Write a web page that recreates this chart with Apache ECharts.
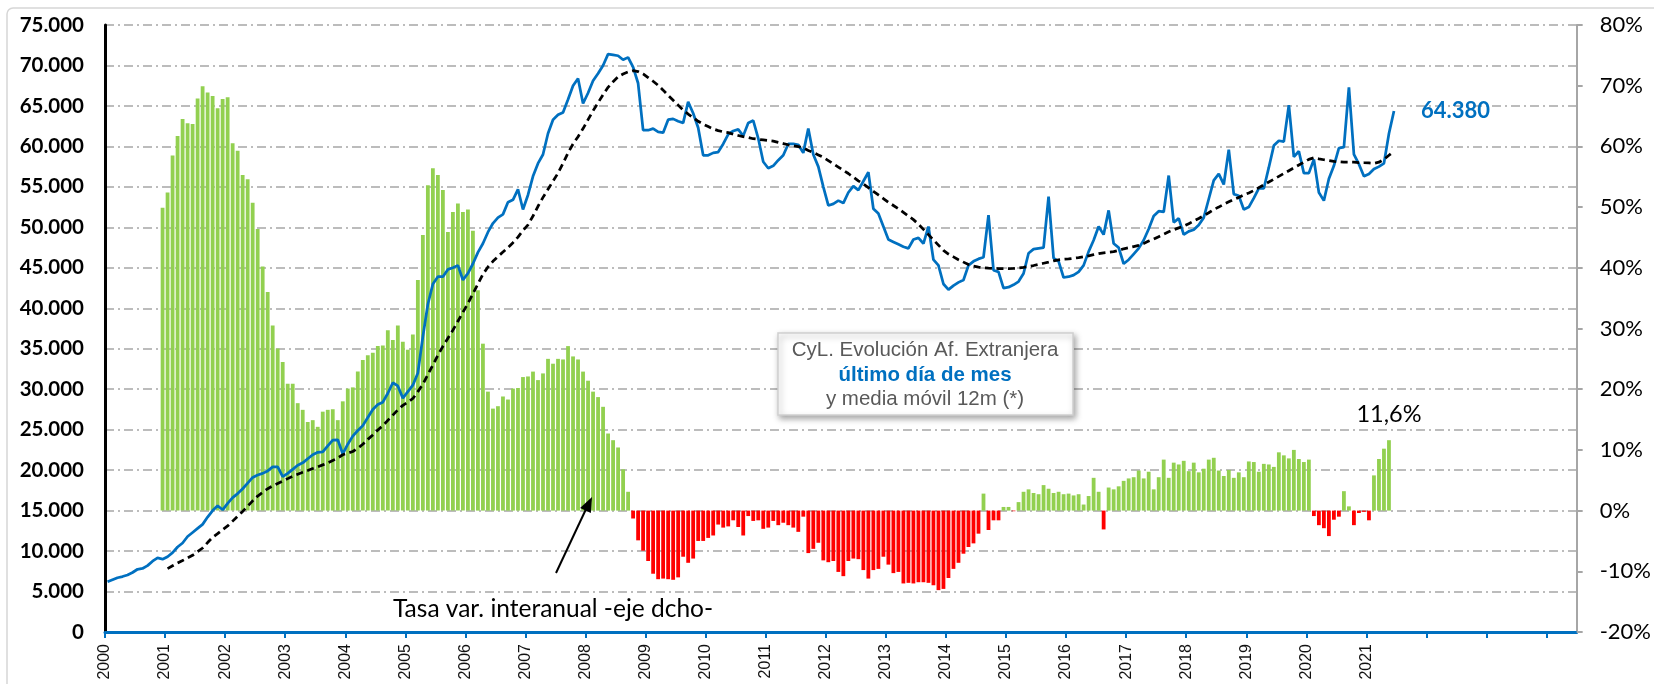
<!DOCTYPE html>
<html>
<head>
<meta charset="utf-8">
<script src="https://cdn.jsdelivr.net/npm/echarts@6/dist/echarts.min.js"></script>
<style>html,body{margin:0;padding:0;background:#fff;}#c{width:1654px;height:684px;}</style>
</head>
<body>
<div id="c"></div>
<script>
// Year tick labels (January of each year)
const anios = ['2000','2001','2002','2003','2004','2005','2006','2007','2008','2009','2010',
  '2011','2012','2013','2014','2015','2016','2017','2018','2019','2020','2021'];
const aniosEje = 24; // the axis runs to mid-2024 with unlabeled ticks

// Afiliados extranjeros, último día de mes (Jan 2000 .. Jun 2021)
const afiliados = [
  6200, 6450, 6700, 6850, 7050, 7350, 7750, 7850, 8200, 8750, 9150, 9000,
  9300, 9800, 10500, 11000, 11800, 12300, 12800, 13300, 14200, 15000, 15600, 15100,
  15900, 16600, 17100, 17700, 18400, 19100, 19400, 19600, 19900, 20400, 20400, 19200,
  19600, 20100, 20600, 20900, 21400, 21900, 22200, 22250, 23000, 23700, 23750, 22000,
  23200, 24200, 24900, 25500, 26500, 27500, 28100, 28400, 29500, 30800, 30400, 28900,
  29700, 30500, 32000, 36500, 40500, 43000, 43900, 43900, 44800, 45000, 45300, 43500,
  44300, 45500, 46900, 48000, 49400, 50500, 51200, 51600, 53100, 53400, 54700, 52200,
  54000, 56300, 57900, 59000, 61600, 63300, 63900, 64200, 65800, 67500, 68400, 65300,
  66600, 68100, 69000, 70000, 71400, 71300, 71200, 70700, 71000, 69800, 67800, 62000,
  62000, 62200, 61800, 61700, 63300, 63400, 63100, 62900, 65500, 64100, 62300, 58900,
  58900, 59200, 59300, 60300, 61500, 61900, 62100, 61300, 62900, 63200, 61000, 58100,
  57300, 57600, 58300, 58900, 60300, 60300, 60200, 59200, 62200, 59000, 57500, 55000,
  52700, 52900, 53300, 53000, 54300, 55100, 54600, 55700, 56800, 52300, 51700, 50100,
  48500, 48200, 47900, 47600, 47400, 48500, 48700, 48000, 50100, 46000, 45300, 43000,
  42300, 42800, 43200, 43500, 45300, 45800, 46100, 46300, 51500, 44700, 44500, 42500,
  42600, 42900, 43300, 44300, 46800, 47300, 47400, 47500, 53800, 46200, 45800, 43800,
  43900, 44100, 44500, 45300, 47000, 48400, 50100, 49100, 52100, 48000, 47500, 45500,
  46000, 46700, 47400, 48400, 49800, 51400, 52000, 51900, 56400, 50600, 51100, 49100,
  49500, 49700, 50300, 51200, 53500, 55800, 56600, 55300, 59600, 54100, 53900, 52200,
  52500, 53600, 54800, 54800, 57400, 60100, 60700, 60600, 65100, 58700, 59400, 56700,
  56700, 58400, 54300, 53300, 56000, 57600, 59800, 59900, 67300, 59000, 57800, 56300,
  56600, 57200, 57500, 57900, 61600, 64380
];

// Media móvil 12 meses (from Jan 2001)
const inicioMedia = 12;
const mediaMovil = [
  7830, 8180, 8520, 8830, 9150, 9480, 9920, 10380, 11050, 11700, 12150, 12650,
  13100, 13700, 14300, 14900, 15550, 16200, 16800, 17250, 17700, 18050, 18350, 18650,
  18950, 19250, 19500, 19750, 19950, 20200, 20400, 20650, 20900, 21200, 21500, 21900,
  22100, 22300, 22700, 23200, 23800, 24350, 24950, 25500, 26150, 26800, 27450, 28000,
  28400, 28850, 29700, 30600, 31800, 33000, 34200, 35300, 36300, 37300, 38400, 39500,
  40600, 41800, 43000, 44200, 45100, 45800, 46400, 46950, 47500, 48100, 48800, 49600,
  50300, 51400, 52600, 53700, 54700, 55700, 56700, 57900, 59200, 60300, 61200, 62200,
  63300, 64400, 65400, 66400, 67300, 68000, 68600, 68950, 69200, 69350, 69250, 68950,
  68500, 68050, 67550, 66950, 66300, 65700, 65100, 64500, 64000, 63550, 63100, 62750,
  62450, 62150, 61950, 61800, 61700, 61500, 61350, 61200, 61100, 60950, 60880, 60800,
  60720, 60650, 60500, 60350, 60200, 60080, 59980, 59800, 59500, 59250, 58950, 58650,
  58250, 57850, 57450, 57050, 56650, 56200, 55750, 55350, 54900, 54450, 54000, 53550,
  53100, 52700, 52300, 51850, 51400, 50950, 50400, 49750, 49100, 48450, 47800, 47150,
  46700, 46350, 46000, 45700, 45400, 45200, 45080, 45000, 44950, 44920, 44910, 44910,
  44910, 44920, 44980, 45050, 45150, 45280, 45420, 45560, 45700, 45850, 45980, 46050,
  46100, 46180, 46260, 46350, 46480, 46620, 46760, 46850, 46930, 47000, 47150, 47350,
  47480, 47620, 47760, 48000, 48300, 48550, 48850, 49150, 49450, 49700, 49930, 50150,
  50450, 50780, 51100, 51450, 51800, 52200, 52500, 52850, 53150, 53450, 53700, 54000,
  54250, 54550, 54900, 55250, 55600, 55950, 56300, 56650, 57000, 57350, 57700, 58050,
  58400, 58600, 58450, 58350, 58250, 58150, 58100, 58050, 58050, 58050, 58000, 57980,
  57950, 57900, 58050, 58400, 58900, 59400
];

// Tasa de variación interanual (%), right axis; bars drawn from the month slot below
const inicioTasa = 11;
const tasaInteranual = [
  49.9, 52.4, 58.5, 61.7, 64.5, 63.8, 63.7, 67.9, 69.9, 68.9, 68.3, 66.3,
  67.8, 68.1, 60.5, 59.3, 55.3, 54.6, 50.7, 46.4, 40.2, 36.0, 30.5, 26.7,
  24.5, 20.9, 20.9, 17.7, 16.6, 14.6, 14.9, 13.8, 16.3, 16.6, 16.7, 14.9,
  18.0, 20.1, 20.3, 22.9, 24.8, 25.6, 26.0, 27.1, 27.2, 29.7, 28.1, 30.5,
  27.8, 26.5, 29.0, 38.0, 45.4, 53.6, 56.4, 55.3, 52.8, 45.9, 49.2, 50.6,
  49.2, 49.6, 46.1, 36.3, 27.5, 19.6, 16.8, 17.2, 18.8, 18.3, 20.1, 20.2,
  22.0, 22.1, 22.9, 21.5, 22.6, 25.0, 24.2, 25.0, 24.9, 27.1, 25.4, 24.9,
  22.9, 21.4, 19.6, 18.7, 17.1, 12.7, 11.6, 10.4, 6.8, 3.1, -1.3, -4.9,
  -6.6, -8.3, -10.4, -11.3, -11.2, -11.3, -11.4, -11.0, -7.6, -8.6, -7.9, -5.0,
  -5.0, -4.5, -4.1, -2.3, -2.8, -2.6, -1.6, -2.7, -4.1, -0.9, -1.7, -1.6,
  -3.0, -2.8, -1.7, -2.4, -2.0, -2.4, -2.8, -3.5, -1.0, -7.0, -6.3, -5.3,
  -8.2, -8.5, -8.3, -10.1, -10.8, -8.3, -7.9, -8.0, -9.8, -11.2, -9.8, -9.6,
  -7.6, -8.9, -10.3, -10.1, -12.0, -11.9, -12.0, -11.8, -11.8, -11.9, -12.3, -13.1,
  -12.9, -11.1, -9.6, -8.6, -7.1, -6.0, -5.4, -3.8, 2.8, -3.2, -1.6, -1.6,
  0.6, 0.6, -0.1, 1.4, 3.1, 3.5, 2.9, 2.7, 4.2, 3.6, 2.9, 3.1,
  2.7, 2.8, 2.5, 2.7, 1.0, 2.4, 5.4, 3.1, -3.1, 3.8, 3.5, 4.0,
  4.9, 5.3, 5.5, 6.6, 5.3, 6.4, 3.5, 5.5, 8.4, 5.4, 7.9, 7.6,
  8.2, 6.5, 7.9, 6.3, 6.9, 8.4, 8.7, 6.6, 5.7, 6.7, 5.4, 6.3,
  5.5, 8.1, 8.0, 6.4, 7.7, 7.6, 7.2, 9.6, 9.1, 8.6, 10.0, 8.5,
  8.0, 8.4, -0.9, -2.4, -2.9, -4.2, -1.5, -1.0, 3.2, 0.7, -2.4, -0.4,
  -0.2, -1.6, 5.8, 8.5, 10.2, 11.6
];

const miles = v => String(Math.round(v)).replace(/\B(?=(\d{3})+(?!\d))/g, '.');
const calibri = 'Lato, "Open Sans", sans-serif';
const arial = '"Liberation Sans", Arial, sans-serif';

const tickValues = [];
for (let k = 0; k <= aniosEje; k++) tickValues.push(k * 12);
const labelValues = anios.map((a, k) => k * 12);

const lineData = afiliados.map((v, i) => [i + 0.5, v]);
const mediaData = mediaMovil.map((v, j) => [inicioMedia + j + 0.5, v]);
const tasaData = tasaInteranual.map((v, j) => {
  const item = { value: [inicioTasa + j + 0.5, v] };
  if (j === tasaInteranual.length - 1) {
    item.label = {
      show: true, position: 'top', distance: 14,
      formatter: p => p.value[1].toFixed(1).replace('.', ',') + '%',
      fontFamily: calibri, fontSize: 23.5, color: '#000'
    };
  }
  return item;
});

const chart = echarts.init(document.getElementById('c'), null, { renderer: 'canvas' });
chart.setOption({
  animation: false,
  backgroundColor: '#fff',
  grid: { left: 105, right: 68, top: 25, bottom: 52, containLabel: false },
  xAxis: {
    type: 'value', min: 0, max: 294,
    axisLine: { show: true, onZero: false, lineStyle: { color: '#0070C0', width: 3 } },
    axisTick: { show: true, length: 6, customValues: tickValues, lineStyle: { color: '#0070C0', width: 2 } },
    axisLabel: {
      show: true, rotate: 90, margin: 12, customValues: labelValues,
      formatter: v => anios[Math.round(v / 12)] || '',
      fontFamily: arial, fontSize: 16, color: '#111'
    },
    splitLine: { show: false }
  },
  yAxis: [
    {
      type: 'value', min: 0, max: 75000, interval: 5000, position: 'left',
      axisLine: { show: true, lineStyle: { color: '#000', width: 3 } },
      axisTick: { show: false },
      axisLabel: { formatter: miles, fontFamily: calibri, fontWeight: 'bold', fontSize: 20.5, color: '#000', margin: 21 },
      splitLine: { show: true, lineStyle: { color: '#A6A6A6', width: 1.5, type: [9, 4, 2, 4] } }
    },
    {
      type: 'value', min: -20, max: 80, interval: 10, position: 'right',
      axisLine: { show: true, lineStyle: { color: '#A6A6A6', width: 2 } },
      axisTick: { show: true, length: 6, lineStyle: { color: '#A6A6A6', width: 2 } },
      axisLabel: { formatter: '{value}%', fontFamily: calibri, fontSize: 22, color: '#000', margin: 23 },
      splitLine: { show: false }
    }
  ],
  series: [
    {
      type: 'bar', yAxisIndex: 1, data: tasaData, barWidth: 3.8,
      itemStyle: { color: p => (p.value[1] >= 0 ? '#92D050' : '#FF0000') }
    },
    {
      type: 'line', yAxisIndex: 0, data: lineData, symbol: 'none',
      lineStyle: { color: '#0070C0', width: 2.75 },
      endLabel: {
        show: true, distance: 27, formatter: p => miles(p.value[1]),
        fontFamily: calibri, fontWeight: 'bold', fontSize: 22, color: '#0070C0'
      }
    },
    {
      type: 'line', yAxisIndex: 0, data: mediaData, symbol: 'none',
      lineStyle: { color: '#000', width: 2.75, type: [7, 4.5] }
    }
  ],
  graphic: [
    { type: 'rect', silent: true, shape: { x: 7, y: 8, width: 1720, height: 720, r: 6 },
      style: { fill: 'none', stroke: '#d6d6d6', lineWidth: 1.5 }, z: -10 },
    { type: 'rect', shape: { x: 778, y: 333, width: 295, height: 82 },
      style: { fill: '#fff', stroke: '#d0d0d0', lineWidth: 1.5, shadowBlur: 6, shadowOffsetX: 2, shadowOffsetY: 3, shadowColor: 'rgba(0,0,0,0.35)' }, z: 100 },
    { type: 'text', x: 925, y: 375, z: 101,
      style: {
        text: '{a|CyL. Evolución Af. Extranjera}\n{b|último día de mes}\n{a|y media móvil 12m (*)}',
        align: 'center', verticalAlign: 'middle',
        rich: {
          a: { fontFamily: arial, fontSize: 20.5, fill: '#595959', lineHeight: 24.5, align: 'center' },
          b: { fontFamily: arial, fontSize: 20.5, fontWeight: 'bold', fill: '#0070C0', lineHeight: 24.5, align: 'center' }
        }
      } },
    { type: 'text', x: 553, y: 609, z: 101,
      style: { text: 'Tasa var. interanual -eje dcho-', fontFamily: calibri, fontSize: 24.5, fill: '#000', align: 'center', verticalAlign: 'middle' } },
    { type: 'line', z: 101, shape: { x1: 556, y1: 573, x2: 587, y2: 507 }, style: { stroke: '#000', lineWidth: 2 } },
    { type: 'polygon', z: 101, shape: { points: [[592, 497], [590.9, 513.1], [580.1, 507.9]] }, style: { fill: '#000' } }
  ]
});
</script>
</body>
</html>
